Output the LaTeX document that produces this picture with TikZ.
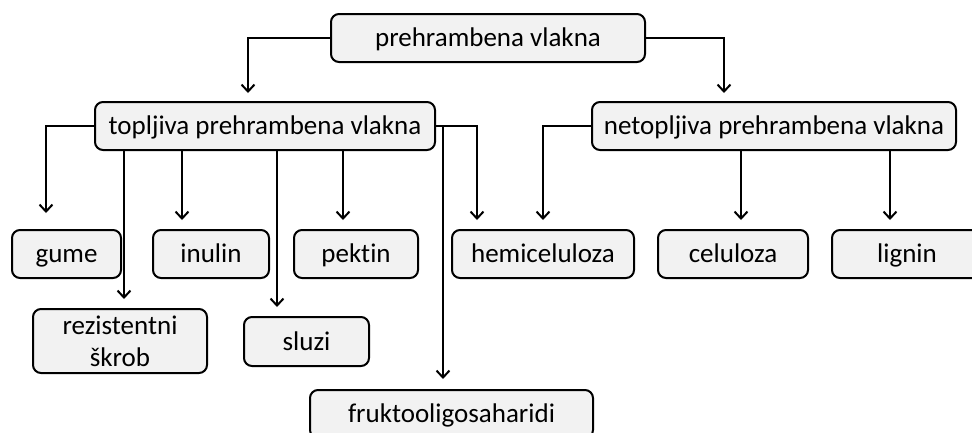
\documentclass[tikz,border=0pt]{standalone}
\usepackage{fontspec}
\setmainfont{Carlito}[Ligatures={NoCommon}]
\usetikzlibrary{arrows.meta}
\definecolor{boxfill}{HTML}{F2F2F2}
\begin{document}
\begin{tikzpicture}[x=1pt,y=-1pt,
  box/.style={draw=black, line width=2pt, fill=boxfill, rounded corners=8pt,
    inner sep=0pt, font=\fontsize{27}{32}\selectfont, align=center},
  one/.style={text height=20pt, text depth=3pt},
  arr/.style={line width=2pt, -{Straight Barb[length=7pt,width=13pt,line width=2pt]}}]
\useasboundingbox (0,0) rectangle (972,432);
% nodes
\node[box, one, minimum width=314pt, minimum height=48pt] (root) at (488,38) {prehrambena vlakna};
\node[box, one, minimum width=340pt, minimum height=48pt] (top) at (265,126) {topljiva prehrambena vlakna};
\node[box, one, minimum width=364pt, minimum height=48pt] (net) at (774,126) {netopljiva prehrambena vlakna};
\node[box, one, minimum width=109pt, minimum height=48pt] (gume) at (66.5,254) {gume};
\node[box, one, minimum width=116pt, minimum height=48pt] (inulin) at (211,254) {inulin};
\node[box, one, minimum width=124pt, minimum height=48pt] (pektin) at (356,254) {pektin};
\node[box, one, minimum width=182pt, minimum height=48pt] (hemi) at (543,254) {hemiceluloza};
\node[box, one, minimum width=150pt, minimum height=48pt] (celu) at (733,254) {celuloza};
\node[box, one, minimum width=150pt, minimum height=48pt] (lignin) at (907,254) {lignin};
\node[box, minimum width=174pt, minimum height=64pt] (rez) at (120,341) {rezistentni\\škrob};
\node[box, one, minimum width=125pt, minimum height=49pt] (sluzi) at (306.5,341.5) {sluzi};
\node[box, one, minimum width=283pt, minimum height=48pt] (fruk) at (451.5,414) {fruktooligosaharidi};
% arrow tips
\coordinate (t1) at (248,93);
\coordinate (t2) at (724,93);
\coordinate (t3) at (46,213);
\coordinate (t4) at (124,299);
\coordinate (t5) at (182,220);
\coordinate (t6) at (277,307);
\coordinate (t7) at (343,220);
\coordinate (t8) at (477,220);
\coordinate (t9) at (443,379);
\coordinate (t10) at (543,220);
\coordinate (t11) at (741,220);
\coordinate (t12) at (890,220);
% connectors
\draw[arr] (root.west) -| (t1);
\draw[arr] (root.east) -| (t2);
\draw[arr] (top.west) -| (t3);
\draw[arr] (t4 |- top.south) -- (t4);
\draw[arr] (t5 |- top.south) -- (t5);
\draw[arr] (t6 |- top.south) -- (t6);
\draw[arr] (t7 |- top.south) -- (t7);
\draw[arr] (top.east) -| (t8);
\draw[arr] (t9 |- top.east) -- (t9);
\draw[arr] (net.west) -| (t10);
\draw[arr] (t11 |- net.south) -- (t11);
\draw[arr] (t12 |- net.south) -- (t12);
\end{tikzpicture}
\end{document}
